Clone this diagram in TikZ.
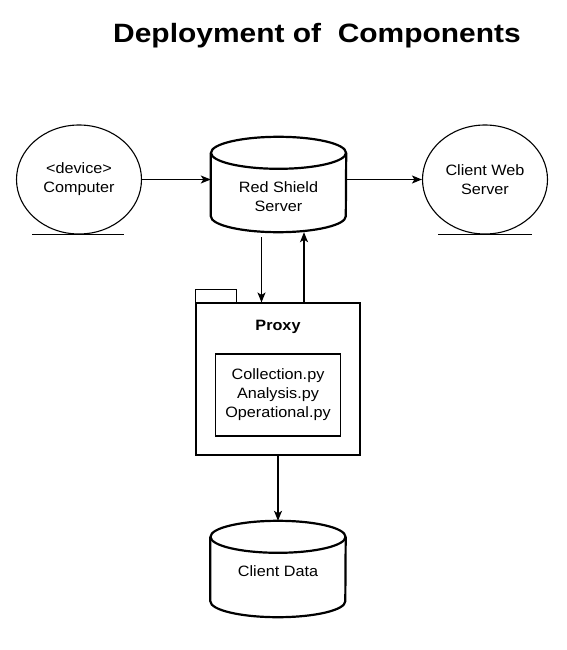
\documentclass[tikz,border=0pt]{standalone}
\usepackage{fontspec}
\setmainfont{Liberation Sans}[FakeStretch=1.08]
\newfontfamily\titlefont{Liberation Sans}[FakeStretch=1.13]
\usetikzlibrary{shapes.geometric,arrows.meta,calc}
\begin{document}
\begin{tikzpicture}[x=1pt,y=1pt,
  lbl/.style={font=\fontsize{15}{19}\selectfont, align=center},
  entity/.style={ellipse, draw, line width=1.1pt, minimum width=125pt, minimum height=109pt, inner sep=0pt, lbl},
  cylbox/.style={rectangle, minimum width=135pt, minimum height=95pt, inner sep=0pt, lbl},
  cylline/.style={line width=2.2pt},
  boxline/.style={draw, line width=1.1pt},
  arr/.style={line width=1.1pt, -{Stealth[length=10pt, width=8pt, inset=2.5pt]}}]
\useasboundingbox[fill=white] (0,0) rectangle (567,-650);
% title
\node[anchor=base, font=\titlefont\bfseries\fontsize{26.5}{30}\selectfont] (title) at (317,-42.7) {Deployment of\ \ Components};
% entities
\node[entity] (comp) at (79,-179.5) {<device>\\Computer};
\draw[line width=1.1pt] ([xshift=-47pt]comp.south) -- ([xshift=45pt]comp.south);
\node[entity] (cws) at (485,-179.5) {Client Web\\Server};
\draw[line width=1.1pt] ([xshift=-47pt]cws.south) -- ([xshift=47pt]cws.south);
% Red Shield Server cylinder
\node[cylbox] (rss) at (278.5,-184.5) {};
\draw[cylline] ([yshift=-16pt]rss.north west) -- ([yshift=16pt]rss.south west)
  arc[start angle=180, end angle=360, x radius=67.5pt, y radius=16pt]
  -- ([yshift=-16pt]rss.north east);
\draw[cylline] ([yshift=-16pt]rss.north) ellipse[x radius=67.5pt, y radius=16pt];
\node[lbl] (rsslbl) at (278.5,-197) {Red Shield\\Server};
% Client Data cylinder
\node[cylbox, minimum height=96pt] (cd) at (278,-569) {};
\draw[cylline] ([yshift=-16pt]cd.north west) -- ([yshift=16pt]cd.south west)
  arc[start angle=180, end angle=360, x radius=67.5pt, y radius=16pt]
  -- ([yshift=-16pt]cd.north east);
\draw[cylline] ([yshift=-16pt]cd.north) ellipse[x radius=67.5pt, y radius=16pt];
\node[lbl] (cdlbl) at (278,-571) {Client Data};
% Proxy package
\node[rectangle, boxline, minimum width=164pt, minimum height=152pt, inner sep=0pt] (proxy) at (278,-379) {};
\draw[line width=1.1pt] (proxy.north west) -- ++(0,13) -- ++(41,0) -- ++(0,-13);
\node[lbl, font=\fontsize{15}{19}\selectfont\bfseries] (proxylbl) at (278,-327) {Proxy};
\node[rectangle, boxline, minimum width=125pt, minimum height=82pt, inner sep=0pt, lbl] (files) at (278,-395) {Collection.py\\Analysis.py\\Operational.py};
% connectors
\draw[arr] (comp.east) -- (comp.east -| rss.west);
\draw[arr] (rss.east |- cws.west) -- (cws.west);
\draw[arr] ([xshift=-17pt, yshift=-5pt]rss.south) -- ([xshift=-17pt]rss.south |- proxy.north);
\draw[arr] ([xshift=25.5pt]rss.south |- proxy.north) -- ([xshift=25.5pt]rss.south);
\draw[arr] (proxy.south) -- (cd.north);
\end{tikzpicture}
\end{document}
